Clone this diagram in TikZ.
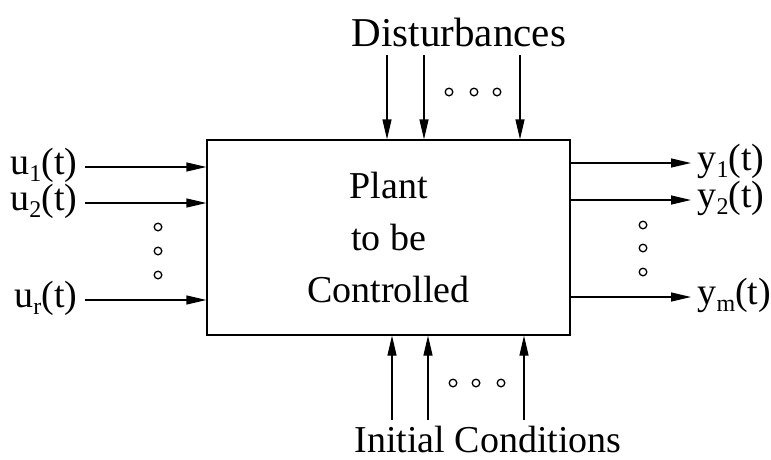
\documentclass[tikz,border=0pt]{standalone}
\usepackage{fontspec}
\setmainfont{Liberation Serif}
\usetikzlibrary{arrows.meta}
\newcommand{\lowidx}[1]{\raisebox{-7pt}{\fontsize{24}{24}\selectfont #1}}

\begin{document}
\begin{tikzpicture}[x=1pt, y=-1pt, line width=1.3pt,
    lbl/.style={inner sep=0pt, font=\fontsize{38}{40}\selectfont},
    arr/.style={-{Triangle[length=20pt, width=9pt]}},
    dot/.style={line width=1.3pt}]
\useasboundingbox (0,0) rectangle (771,459);

\node[draw, minimum width=363pt, minimum height=195pt, inner sep=0pt,
      align=center, font=\fontsize{38}{52}\selectfont] (plant) at (388.5,237.5)
      {Plant\\to be\\Controlled};

% inputs u_i(t)
\node[lbl, anchor=east] (u1) at (78,165) {u\lowidx{1}(t)};
\node[lbl, anchor=east] (u2) at (78,201) {u\lowidx{2}(t)};
\node[lbl, anchor=east] (ur) at (78,298) {u\lowidx{r}(t)};
\foreach \n in {u1,u2,ur} {
    \coordinate (s\n) at ([xshift=7pt, yshift=-2pt]\n.east);
    \draw[arr] (s\n) -- (s\n -| plant.west);
}
\foreach \y in {227,251,275} \draw[dot] (158,\y) circle (3.8pt);

% outputs y_j(t)
\node[lbl, anchor=west] (y1) at (697,161) {y\lowidx{1}(t)};
\node[lbl, anchor=west] (y2) at (697,198) {y\lowidx{2}(t)};
\node[lbl, anchor=west] (ym) at (697,295) {y\lowidx{m}(t)};
\foreach \n in {y1,y2,ym} {
    \coordinate (e\n) at ([xshift=-6pt, yshift=-2pt]\n.west);
    \draw[arr] (e\n -| plant.east) -- (e\n);
}
\foreach \y in {225,248,272} \draw[dot] (643,\y) circle (3.8pt);

% disturbances
\node[lbl, font=\fontsize{41}{42}\selectfont] (dist) at (459,32) {Disturbances};
\foreach \x [count=\i] in {387,424,520} {
    \coordinate (d\i) at (\x,55);
    \draw[arr] (d\i) -- (d\i |- plant.north);
}
\foreach \x in {449,474,497} \draw[dot] (\x,92) circle (3.8pt);

% initial conditions
\node[lbl] (init) at (488,439) {Initial Conditions};
\foreach \x [count=\i] in {392,428,524} {
    \coordinate (c\i) at (\x,420);
    \draw[arr] (c\i) -- (c\i |- plant.south);
}
\foreach \x in {453,476,501} \draw[dot] (\x,383) circle (3.8pt);
\end{tikzpicture}
\end{document}
